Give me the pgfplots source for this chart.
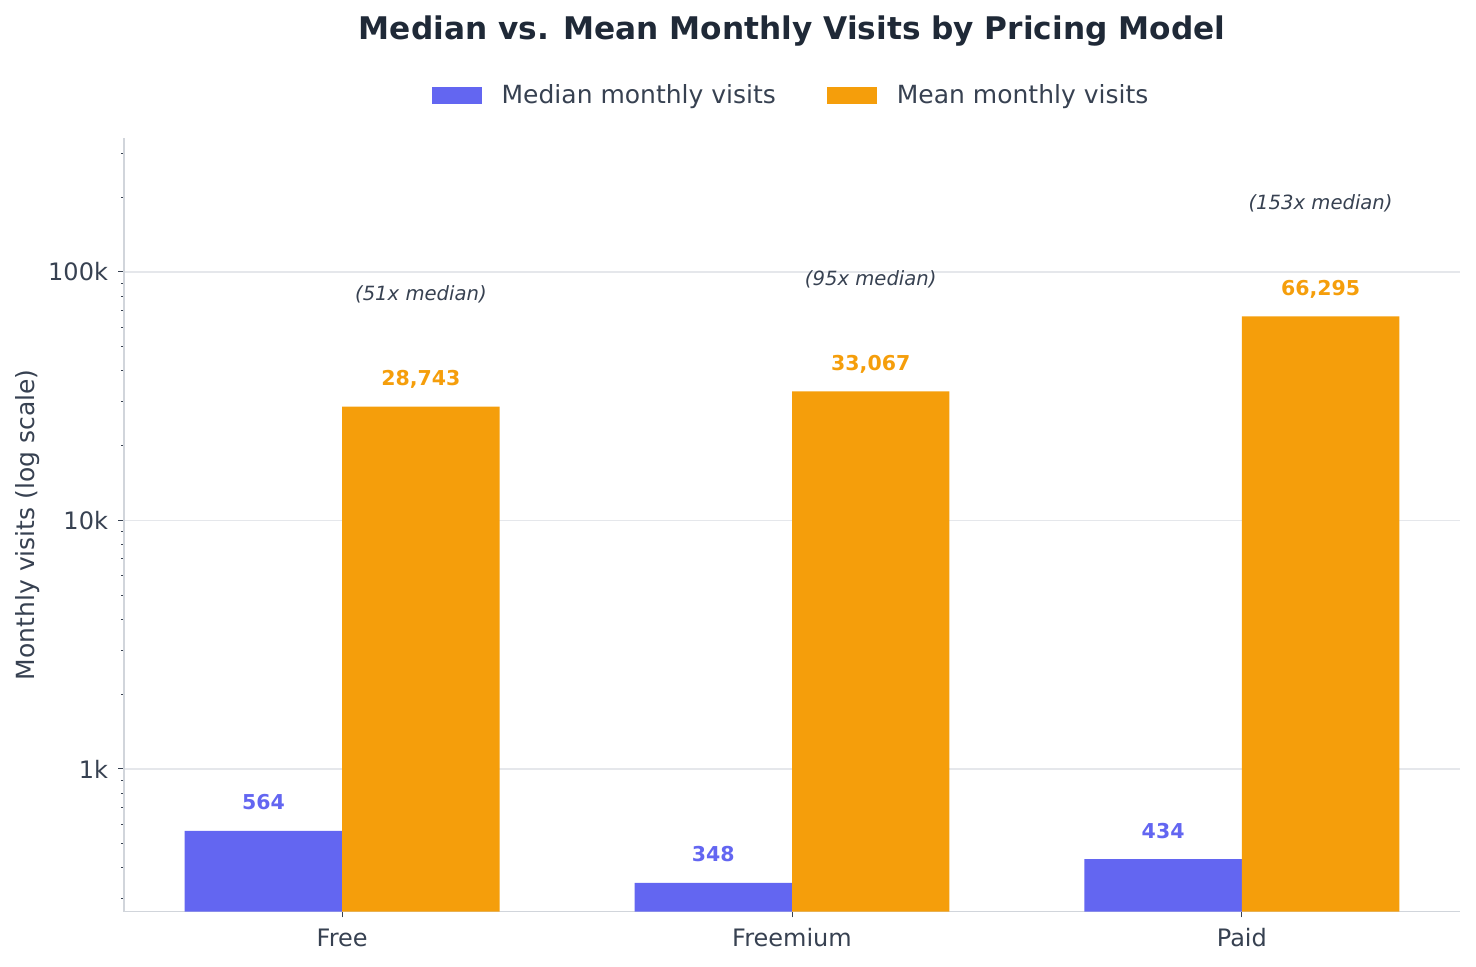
\documentclass[border=0pt]{standalone}
\usepackage{fontspec}
\setmainfont{DejaVu Sans}
\usepackage{pgfplots}
\pgfplotsset{compat=1.18}
\definecolor{medc}{HTML}{6366F1}
\definecolor{meanc}{HTML}{F59E0B}
\definecolor{axgray}{HTML}{D1D5DB}
\definecolor{gridc}{HTML}{E5E7EB}
\definecolor{txt}{HTML}{374151}
\definecolor{titlec}{HTML}{1F2937}
\begin{document}
\begin{tikzpicture}
\begin{axis}[
  at={(62pt,27.25pt)}, anchor=south west,
  scale only axis, width=668pt, height=386.75pt,
  ymode=log, log origin y=infty,
  xmin=-0.485, xmax=2.485, ymin=267, ymax=346000,
  axis x line*=bottom, axis y line*=left,
  axis line style={draw=axgray, line width=0.8pt, -},
  xtick={0,1,2}, xticklabels={Free,Freemium,Paid},
  ytick={1000,10000,100000}, yticklabels={1k,10k,100k},
  minor ytick={300,400,500,600,700,800,900,2000,3000,4000,5000,6000,7000,8000,9000,20000,30000,40000,50000,60000,70000,80000,90000,200000,300000},
  tick align=outside, major tick length=3pt, minor tick length=1.6pt,
  every tick/.append style={draw=txt, line width=0.5pt},
  ymajorgrids, grid style={draw=gridc, line width=0.8pt},
  tick label style={font=\fontsize{12}{14}\selectfont, text=txt},
  xticklabel style={yshift=-2pt},
  yticklabel style={xshift=-1.5pt},
  ylabel={Monthly visits (log scale)},
  ylabel style={at={(axis description cs:-0.0718,0.5)}, anchor=center, font=\fontsize{12.5}{15}\selectfont, text=txt},
  title={Median vs. Mean Monthly Visits by Pricing Model},
  every axis title/.style={at={(axis description cs:0.5,1.1383)}, anchor=center, font=\bfseries\fontsize{15.6}{18}\selectfont, text=titlec},
  legend style={at={(axis description cs:0.5,1.0543)}, anchor=center, draw=none, fill=none, legend columns=2,
    font=\fontsize{12.5}{15}\selectfont, text=txt,
    /tikz/every even column/.append style={column sep=23.5pt},
    /tikz/every odd column/.append style={column sep=8pt}},
  legend image code/.code={\fill[#1] (0pt,-4.25pt) rectangle (25pt,4.25pt);},
  point meta=rawy,
  nodes near coords={\pgfmathprintnumber[fixed,precision=0,1000 sep={,},assume math mode=true]{\pgfplotspointmeta}},
  every node near coord/.append style={anchor=base, yshift=10.5pt, font=\bfseries\fontsize{10.25}{12}\selectfont},
]
\addplot[ybar, bar width=0.35, bar shift=0pt, fill=medc, draw=none,
  every node near coord/.append style={text=medc}]
  coordinates {(-0.175,564) (0.825,348) (1.825,434)};
\addlegendentry{Median monthly visits}
\addplot[ybar, bar width=0.35, bar shift=0pt, fill=meanc, draw=none,
  every node near coord/.append style={text=meanc}]
  coordinates {(0.175,28743) (1.175,33067) (2.175,66295)};
\addlegendentry{Mean monthly visits}
\node[font=\itshape\fontsize{9.8}{12}\selectfont, text=txt] at (axis cs:0.175,81570) {(51x median)};
\node[font=\itshape\fontsize{9.8}{12}\selectfont, text=txt] at (axis cs:1.175,93720) {(95x median)};
\node[font=\itshape\fontsize{9.8}{12}\selectfont, text=txt] at (axis cs:2.175,189600) {(153x median)};
\end{axis}
\pgfresetboundingbox
\path (0,0) rectangle (738pt,483pt);
\end{tikzpicture}
\end{document}
